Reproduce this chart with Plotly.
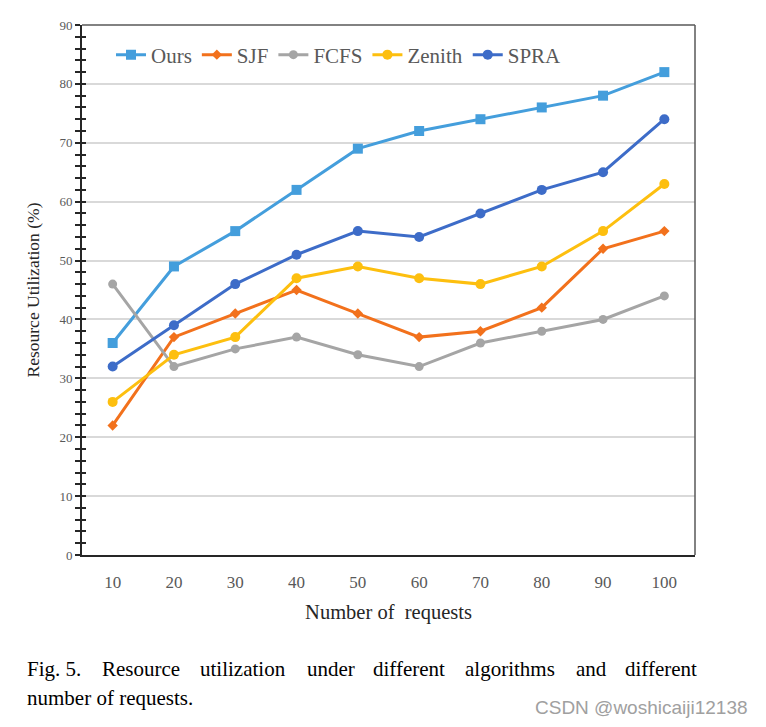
import plotly.graph_objects as go

categories = ["10", "20", "30", "40", "50", "60", "70", "80", "90", "100"]
ours = [36, 49, 55, 62, 69, 72, 74, 76, 78, 82]
sjf = [22, 37, 41, 45, 41, 37, 38, 42, 52, 55]
fcfs = [46, 32, 35, 37, 34, 32, 36, 38, 40, 44]
zenith = [26, 34, 37, 47, 49, 47, 46, 49, 55, 63]
spra = [32, 39, 46, 51, 55, 54, 58, 62, 65, 74]

series = [
    ("Ours", ours, "#449edc", "square", 10),
    ("SJF", sjf, "#f2711c", "diamond", 8),
    ("FCFS", fcfs, "#a5a5a5", "circle", 9),
    ("Zenith", zenith, "#fdbf0f", "circle", 10),
    ("SPRA", spra, "#3d6cc8", "circle", 10),
]

caption_words = ["Fig. 5.", "Resource", "utilization", "under", "different",
                 "algorithms", "and", "different"]
caption_x = [25, 100, 198, 305, 371, 463, 574, 623]
caption_line2 = "number of requests."

W, H = 766, 727
L, R, T, B = 82, 71, 25, 172
PW, PH = W - L - R, H - T - B


def px(x):
    return (x - L) / PW


def py(y):
    return (H - B - y) / PH


fig = go.Figure()
for name, vals, col, sym, sz in series:
    fig.add_trace(go.Scatter(
        x=categories, y=vals, name=name, mode="lines+markers",
        line=dict(color=col, width=3),
        marker=dict(symbol=sym, size=sz, color=col),
    ))

fig.add_trace(go.Scatter(x=categories, y=ours, yaxis="y2", showlegend=False,
                         mode="lines", line=dict(width=0), hoverinfo="skip", opacity=0))

fig.update_layout(
    width=W, height=H,
    margin=dict(l=L, r=R, t=T, b=B),
    paper_bgcolor="white", plot_bgcolor="white",
    font=dict(family="Liberation Serif", color="#595959"),
    showlegend=True,
    legend=dict(orientation="h", x=px(111), y=py(55), xanchor="left", yanchor="middle",
                font=dict(size=21, color="#595959"), bgcolor="rgba(0,0,0,0)",
                itemwidth=30, tracegroupgap=0),
    xaxis=dict(type="category", range=[-0.5, 9.5], showgrid=False,
               showline=True, linecolor="#262626", linewidth=2, mirror=False,
               ticks="", tickfont=dict(size=17, color="#595959"), ticklabelstandoff=11,
               title=dict(text="Number of  requests", font=dict(size=20.5, color="#262626"),
                          standoff=13)),
    yaxis=dict(range=[0, 90], dtick=10, showgrid=True, gridcolor="#d9d9d9", gridwidth=1.5,
               showline=True, linecolor="#262626", linewidth=2,
               ticks="outside", ticklen=5, tickcolor="#262626", tickwidth=1.5,
               minor=dict(dtick=2, ticks="outside", ticklen=5, tickcolor="#262626", tickwidth=1.5),
               tickfont=dict(size=13, color="#595959"), zeroline=False,
               title=dict(text="Resource Utilization (%)", font=dict(size=17.5, color="#262626"),
                          standoff=15)),
    yaxis2=dict(range=[0, 90], overlaying="y", side="left", showgrid=False,
                showticklabels=False, ticks="inside", ticklen=4, dtick=2,
                tickcolor="#262626", tickwidth=1.5, zeroline=False, showline=False),
    shapes=[
        dict(type="line", xref="paper", yref="paper", x0=0, x1=1, y0=1, y1=1,
             line=dict(color="#595959", width=1.5)),
        dict(type="line", xref="paper", yref="paper", x0=1, x1=1, y0=0, y1=1,
             line=dict(color="#595959", width=1.5)),
    ],
)

annotations = []
for w, xp in zip(caption_words, caption_x):
    annotations.append(dict(text=w, x=px(xp), y=py(669), xref="paper", yref="paper",
                            xanchor="left", yanchor="middle", showarrow=False,
                            font=dict(family="Liberation Serif", size=21, color="black")))
annotations.append(dict(text=caption_line2, x=px(25), y=py(698), xref="paper", yref="paper",
                        xanchor="left", yanchor="middle", showarrow=False,
                        font=dict(family="Liberation Serif", size=21, color="black")))
annotations.append(dict(text="CSDN @woshicaiji12138", x=px(750), y=py(707),
                        xref="paper", yref="paper", xanchor="right", yanchor="middle",
                        showarrow=False,
                        font=dict(family="Liberation Sans", size=19, color="#a0a0a0")))
fig.update_layout(annotations=annotations)

fig.write_html("out.html", config={"displayModeBar": False},
               post_script="document.body.style.margin='0';")
